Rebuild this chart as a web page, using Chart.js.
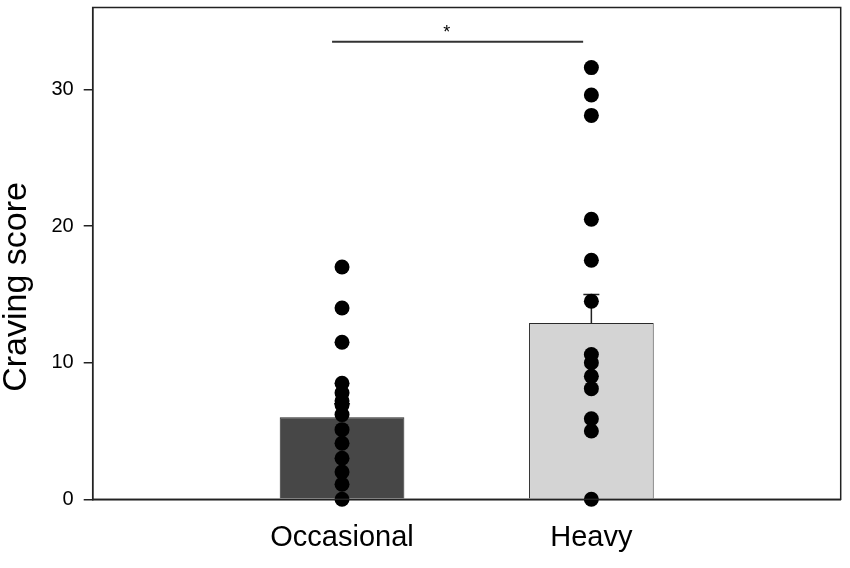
<!DOCTYPE html>
<html>
<head>
<meta charset="utf-8">
<script src="https://cdn.jsdelivr.net/npm/chart.js@4.4.1/dist/chart.umd.min.js"></script>
<style>
  html, body { margin: 0; padding: 0; background: #fff; }
  #wrap { width: 850px; height: 568px; }
</style>
</head>
<body>
<div id="wrap"><canvas id="craving-chart"></canvas></div>
<script>
// groups and their positions on the x axis
const groups = ['Occasional', 'Heavy'];
const groupPos = [1, 2];

// bar heights (mean) and upper error values
const means = [6.0, 12.9];
const errorTops = [7.0, 15.0];

// individual craving scores
const occasionalScores = [0, 1.1, 2, 3, 4.1, 5.1, 6.2, 6.9, 7.2, 7.8, 8.5, 11.5, 14, 17];
const heavyScores = [0, 5, 5.9, 8.1, 9, 10, 10.6, 14.5, 17.5, 20.5, 28.1, 29.6, 31.6];

// y axis ticks
const yTicks = [0, 10, 20, 30];
const yTitle = 'Craving score';

// significance bracket between the groups
const sigX = [0.96, 1.967];
const sigY = 33.5;
const sigLabel = '*';
const sigLabelPos = { x: 1.42, y: 34.1 };

const FONT = "'Liberation Sans', Arial, sans-serif";

// Plugin: error bars (under the dots), significance star, y title and the frame
const extras = {
  id: 'extras',
  afterDatasetDraw(chart, args) {
    if (args.index !== 0) return;
    const ctx = chart.ctx;
    const xs = chart.scales.x, ys = chart.scales.y;
    ctx.save();
    ctx.strokeStyle = '#222';
    ctx.lineWidth = 1.5;
    groupPos.forEach(function (g, i) {
      const px = xs.getPixelForValue(g);
      const y0 = ys.getPixelForValue(means[i]);
      const y1 = ys.getPixelForValue(errorTops[i]);
      ctx.beginPath();
      ctx.moveTo(px, y0);
      ctx.lineTo(px, y1);
      ctx.moveTo(px - 8, y1);
      ctx.lineTo(px + 8, y1);
      ctx.stroke();
    });
    ctx.restore();
  },
  afterDraw(chart) {
    const ctx = chart.ctx;
    const a = chart.chartArea;
    const xs = chart.scales.x, ys = chart.scales.y;
    ctx.save();
    ctx.fillStyle = '#000';
    ctx.font = '18px ' + FONT;
    ctx.textAlign = 'center';
    ctx.textBaseline = 'middle';
    ctx.fillText(sigLabel, xs.getPixelForValue(sigLabelPos.x), ys.getPixelForValue(sigLabelPos.y));

    // y axis title, rotated, sitting a little below the middle of the axis
    ctx.save();
    ctx.translate(26, 287);
    ctx.rotate(-Math.PI / 2);
    ctx.font = '34px ' + FONT;
    ctx.textBaseline = 'alphabetic';
    ctx.fillText(yTitle, 0, 0);
    ctx.restore();

    ctx.strokeStyle = '#222';
    ctx.lineWidth = 1.5;
    ctx.strokeRect(a.left, a.top, a.right - a.left, a.bottom - a.top);
    ctx.restore();
  }
};

const ctx = document.getElementById('craving-chart').getContext('2d');
const cravingChart = new Chart(ctx, {
  type: 'bar',
  data: {
    datasets: [
      {
        type: 'bar',
        data: groupPos.map((x, i) => ({ x: x, y: means[i] })),
        backgroundColor: ['#474747', '#d4d4d4'],
        borderColor: '#2a2a2a',
        borderWidth: 1,
        barPercentage: 0.5,
        categoryPercentage: 1,
        order: 3,
      },
      {
        type: 'scatter',
        data: occasionalScores.map(v => ({ x: groupPos[0], y: v })),
        backgroundColor: '#000',
        borderColor: '#000',
        borderWidth: 0,
        pointRadius: 7.5,
        clip: false,
        order: 1,
      },
      {
        type: 'scatter',
        data: heavyScores.map(v => ({ x: groupPos[1], y: v })),
        backgroundColor: '#000',
        borderColor: '#000',
        borderWidth: 0,
        pointRadius: 7.5,
        clip: false,
        order: 1,
      },
      {
        type: 'line',
        data: sigX.map(x => ({ x: x, y: sigY })),
        borderColor: '#333',
        borderWidth: 2,
        pointRadius: 0,
        fill: false,
        order: 2,
      },
    ],
  },
  options: {
    responsive: true,
    maintainAspectRatio: false,
    animation: false,
    events: [],
    layout: { padding: { left: 0, right: 9.3, top: 7.3, bottom: 0 } },
    plugins: {
      legend: { display: false },
      tooltip: { enabled: false },
    },
    scales: {
      x: {
        type: 'linear',
        min: 0,
        max: 3,
        offset: false,
        grid: { display: false },
        border: { display: true, color: '#222', width: 1.5 },
        afterBuildTicks(scale) {
          scale.ticks = groupPos.map(v => ({ value: v }));
        },
        afterFit(scale) {
          scale.height = 68.7;
          scale.paddingLeft = 0;
          scale.paddingRight = 0;
        },
        ticks: {
          padding: 13,
          color: '#000',
          font: { family: FONT, size: 29 },
          callback: function (value) {
            const i = groupPos.indexOf(value);
            return i >= 0 ? groups[i] : '';
          },
        },
      },
      y: {
        min: 0,
        max: 36,
        grid: {
          display: true,
          drawOnChartArea: false,
          drawTicks: true,
          tickLength: 9,
          color: '#222',
          lineWidth: 1.5,
        },
        border: { display: true, color: '#222', width: 1.5 },
        afterBuildTicks(scale) {
          scale.ticks = yTicks.map(v => ({ value: v }));
        },
        afterFit(scale) {
          scale.width = 92.7;
          scale.paddingTop = 0;
          scale.paddingBottom = 0;
        },
        ticks: {
          padding: 10,
          color: '#000',
          font: { family: FONT, size: 20 },
        },
      },
    },
  },
  plugins: [extras],
});
</script>
</body>
</html>
